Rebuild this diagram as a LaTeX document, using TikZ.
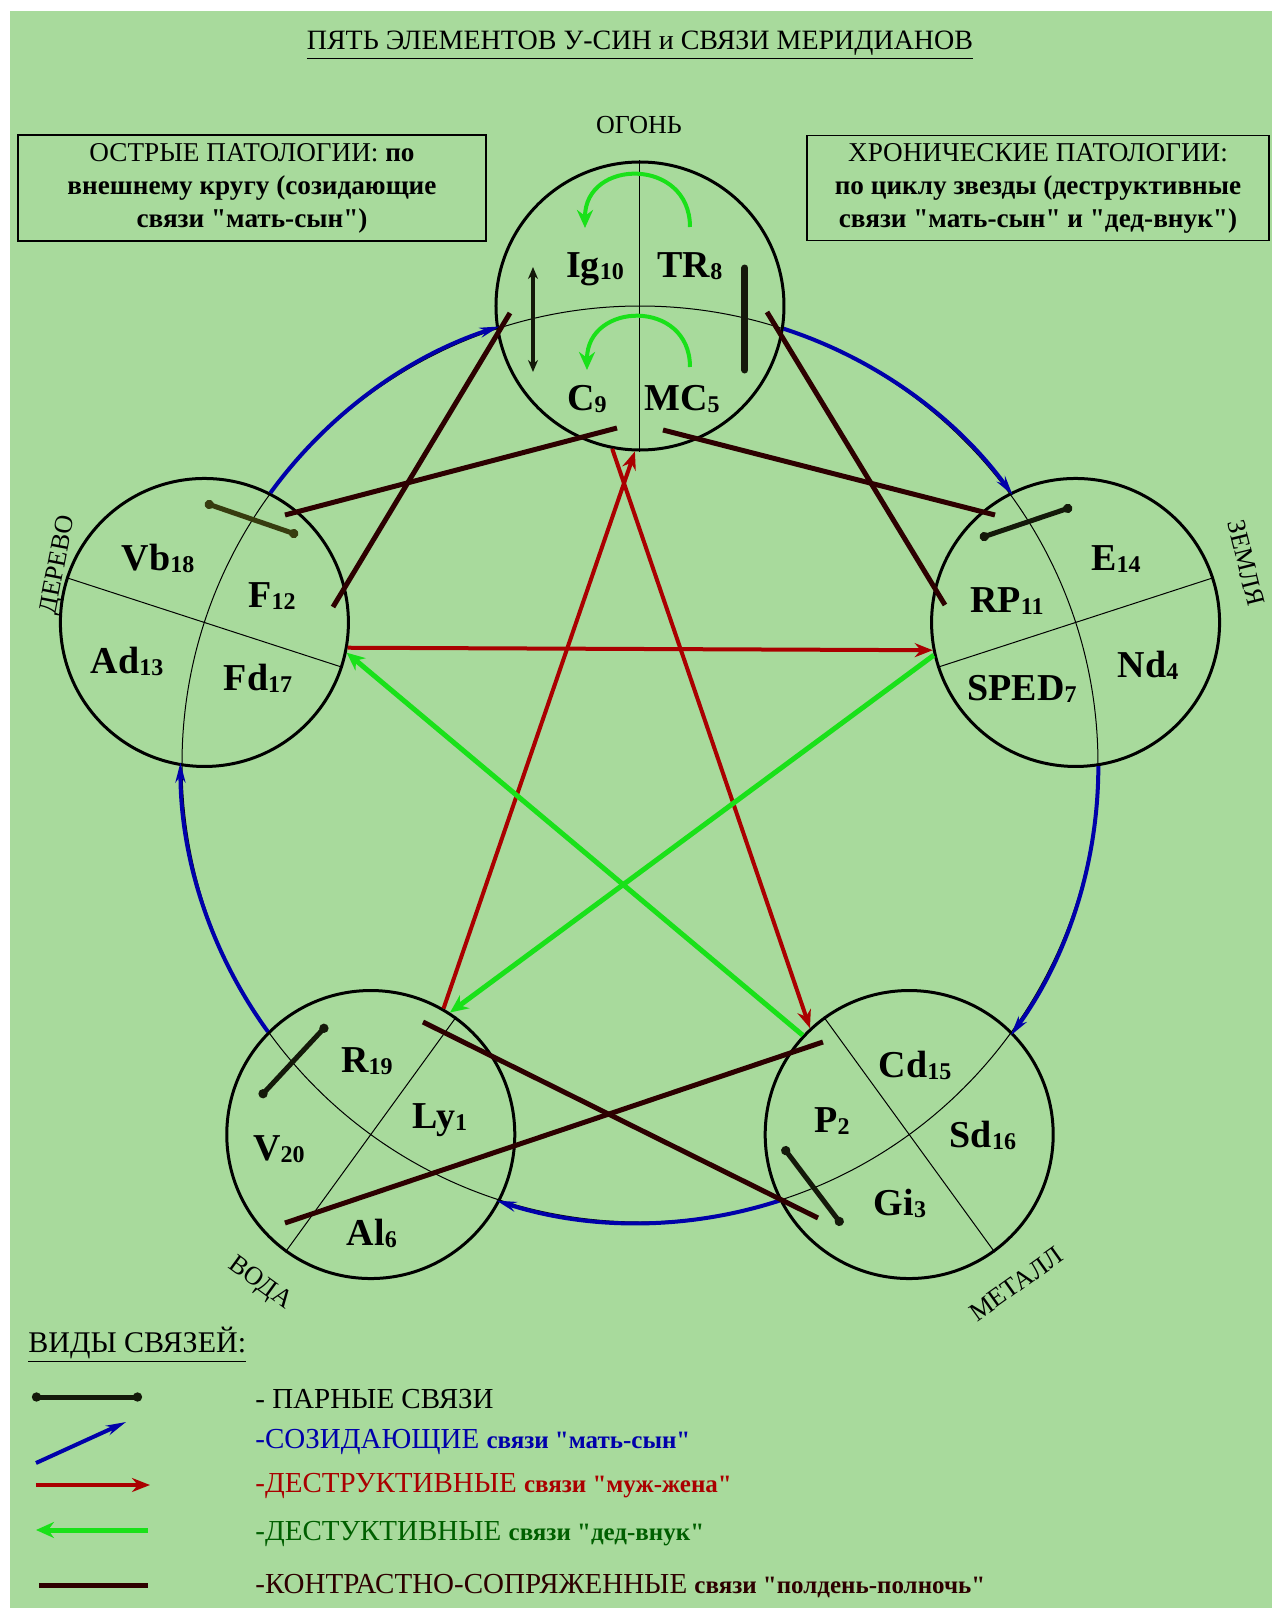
\documentclass[tikz,border=0pt]{standalone}
\usepackage{fontspec}
\setmainfont{Liberation Serif}[Ligatures=TeXOff]
\usetikzlibrary{shapes,arrows.meta,positioning}
\definecolor{PaperGreen}{RGB}{168,218,156}
\definecolor{LinkBlue}{RGB}{0,0,170}
\definecolor{LinkRed}{RGB}{170,0,0}
\definecolor{LinkGreen}{RGB}{25,225,25}
\definecolor{TextGreen}{RGB}{0,95,0}
\definecolor{LinkBrown}{RGB}{45,0,0}
\definecolor{PairBlack}{RGB}{20,25,10}
\definecolor{PairOlive}{RGB}{55,60,15}
\newcommand{\fs}[1]{\fontsize{#1}{#1}\selectfont}
\newcommand{\idx}[1]{\raisebox{-1pt}{\fs{12}#1}}
\tikzset{
  elem/.style={draw, circle, line width=1.5pt, minimum size=144pt, inner sep=0pt},
  merid/.style={font=\bfseries\fs{19}, anchor=base, inner sep=0pt},
  elname/.style={font=\fs{13}, inner sep=0pt},
  notebox/.style={draw, line width=0.8pt, align=center, inner sep=0pt, font=\fontsize{13.6}{16.5}\selectfont},
  createarc/.style={LinkBlue, line width=2pt, -{Stealth[length=10pt,width=5pt]}},
  husband/.style={LinkRed, line width=2pt, -{Stealth[length=9pt,width=7pt]}},
  grandson/.style={LinkGreen, line width=2.5pt, -{Stealth[length=9pt,width=8pt]}},
  noonlink/.style={LinkBrown, line width=2.5pt},
  pairlink/.style={PairBlack, line width=2.5pt, {Circle[length=4.5pt]}-{Circle[length=4.5pt]}},
  legtext/.style={anchor=base west, inner sep=0pt, font=\fs{14.5}}
}

\begin{document}
\begin{tikzpicture}[x=0.5pt,y=0.5pt]
  % paper
  \fill[white] (-640,764) rectangle (632,-844);
  \fill[PaperGreen] (-630,753) rectangle (632,-844);
  \useasboundingbox (-640,764) rectangle (632,-844);

  \node[font=\fs{14}, anchor=base, inner sep=0pt] (title) at (0,714)
    {\underline{ПЯТЬ ЭЛЕМЕНТОВ У-СИН и СВЯЗИ МЕРИДИАНОВ}};

  % notes
  \node[notebox, minimum width=234pt, minimum height=53pt] (acute) at (-388,576)
    {ОСТРЫЕ ПАТОЛОГИИ: \textbf{по}\\ \textbf{внешнему кругу (созидающие}\\ \textbf{связи "мать-сын")}};
  \node[notebox, minimum width=231pt, minimum height=52.5pt] (chronic) at (398,576)
    {ХРОНИЧЕСКИЕ ПАТОЛОГИИ:\\ \textbf{по циклу звезды (деструктивные}\\ \textbf{связи "мать-сын" и "дед-внук")}};

  % five elements
  \node[elem] (fire) at (90:458) {};
  \node[elem] (wood) at (162:458) {};
  \node[elem] (earth) at (18:458) {};
  \node[elem] (metal) at (306:458) {};
  \node[elem] (water) at (234:458) {};
  \draw[line width=0.5pt] (0,0) circle[radius=458];
  \foreach \n/\a/\b in {fire/90/270, wood/162/342, earth/18/198, water/234/54, metal/306/126}
    \draw[line width=0.5pt] (\n.\a) -- (\n.\b);

  \node[elname, anchor=base] (fireName) at (-1,631) {ОГОНЬ};
  \node[elname, rotate=79] (woodName) at (-581,199) {ДЕРЕВО};
  \node[elname, rotate=-76] (earthName) at (606,201) {ЗЕМЛЯ};
  \node[elname, rotate=-36] (waterName) at (-380,-520) {ВОДА};
  \node[elname, rotate=35.5] (metalName) at (376,-520) {МЕТАЛЛ};

  % mother-son circle
  \foreach \n/\a/\b in {wood/144/63, fire/72/351, earth/0/279, metal/-72/207, water/-144/135}
    \draw[createarc] (\n.\b) arc[start angle=\a, end angle=\a-36, radius=458];

  % meridians
  \node[merid] (Ig) at (-45,487) {Ig\idx{10}};
  \node[merid] (TR) at (50,487) {TR\idx{8}};
  \node[merid] (C) at (-53,354) {C\idx{9}};
  \node[merid] (MC) at (42,354) {MC\idx{5}};
  \node[merid] (Vb) at (-482,194) {Vb\idx{18}};
  \node[merid] (F) at (-368,157) {F\idx{12}};
  \node[merid] (Ad) at (-513,91) {Ad\idx{13}};
  \node[merid] (Fd) at (-382,74) {Fd\idx{17}};
  \node[merid] (E) at (476,194) {E\idx{14}};
  \node[merid] (RP) at (367,152) {RP\idx{11}};
  \node[merid] (Nd) at (508,87) {Nd\idx{4}};
  \node[merid] (SPED) at (382,64) {SPED\idx{7}};
  \node[merid] (R) at (-273,-308) {R\idx{19}};
  \node[merid] (Ly) at (-200,-364) {Ly\idx{1}};
  \node[merid] (V) at (-361,-396) {V\idx{20}};
  \node[merid] (Al) at (-268,-481) {Al\idx{6}};
  \node[merid] (Cd) at (275,-313) {Cd\idx{15}};
  \node[merid] (P) at (192,-368) {P\idx{2}};
  \node[merid] (Sd) at (343,-383) {Sd\idx{16}};
  \node[merid] (Gi) at (260,-451) {Gi\idx{3}};

  % paired links
  \coordinate (pIg) at (-107,497);  \coordinate (pC) at (-107,392);
  \coordinate (pTR) at (105,496);   \coordinate (pMC) at (105,394);
  \coordinate (pVb) at (-435,261);  \coordinate (pF) at (-342,229);
  \coordinate (pRP) at (340,226);   \coordinate (pE) at (432,257);
  \coordinate (pV) at (-380,-333);  \coordinate (pR) at (-313,-261);
  \coordinate (pP) at (143,-383);   \coordinate (pGi) at (202,-461);
  \draw[PairBlack, line width=2pt, {Stealth[length=6pt,width=5pt]}-{Stealth[length=6pt,width=5pt]}] (pIg) -- (pC);
  \draw[PairBlack, line width=3.5pt, line cap=round] (pTR) -- (pMC);
  \draw[pairlink, PairOlive] (pVb) -- (pF);
  \draw[pairlink] (pRP) -- (pE);
  \draw[pairlink] (pV) -- (pR);
  \draw[pairlink] (pP) -- (pGi);

  % noon-midnight links
  \coordinate (xIg) at (-130,451);  \coordinate (xF) at (-307,157);
  \coordinate (xTR) at (127,452);   \coordinate (xRP) at (305,159);
  \coordinate (xC) at (-23,336);    \coordinate (xVb) at (-355,249);
  \coordinate (xMC) at (23,334);    \coordinate (xE) at (355,249);
  \coordinate (xR) at (-217,-258);  \coordinate (xGi) at (178,-454);
  \coordinate (xV) at (-355,-459);  \coordinate (xP) at (183,-278);
  \draw[noonlink] (xIg) -- (xF);
  \draw[noonlink] (xTR) -- (xRP);
  \draw[noonlink] (xC) -- (xVb);
  \draw[noonlink] (xMC) -- (xE);
  \draw[noonlink] (xR) -- (xGi);
  \draw[noonlink] (xV) -- (xP);

  % star
  \draw[husband] (wood.350) -- (earth.191);
  \draw[husband] (fire.259) -- (metal.133);
  \draw[husband] (water.60) -- (fire.268);
  \draw[grandson] (earth.193) -- (water.57);
  \draw[grandson] (metal.137) -- (wood.348);

  % loops inside fire
  \coordinate (aTR) at (50,537);  \coordinate (aIg) at (-55,536);
  \coordinate (aMC) at (50,397);  \coordinate (aC) at (-53,394);
  \draw[grandson, line width=2pt] (aTR) to[out=90, in=90, looseness=1.7] (aIg);
  \draw[grandson, line width=2pt] (aMC) to[out=90, in=90, looseness=1.7] (aC);

  % legend
  \node[legtext, font=\fs{15}] (legTitle) at (-612,-588) {\underline{ВИДЫ СВЯЗЕЙ:}};
  \coordinate (s1a) at (-608,-633); \coordinate (s1b) at (-498,-633);
  \coordinate (s2a) at (-604,-699); \coordinate (s2b) at (-514,-658);
  \coordinate (s3a) at (-604,-721); \coordinate (s3b) at (-490,-721);
  \coordinate (s4a) at (-492,-766); \coordinate (s4b) at (-604,-766);
  \coordinate (s5a) at (-601,-821); \coordinate (s5b) at (-492,-821);
  \draw[pairlink] (s1a) -- (s1b);
  \draw[createarc] (s2a) -- (s2b);
  \draw[husband] (s3a) -- (s3b);
  \draw[grandson] (s4a) -- (s4b);
  \draw[noonlink] (s5a) -- (s5b);
  \node[legtext] (legPair) at (-385,-644) {- ПАРНЫЕ СВЯЗИ};
  \node[legtext, LinkBlue] (legCreate) at (-385,-684) {-СОЗИДАЮЩИЕ {\bfseries\fs{12.5}связи "мать-сын"}};
  \node[legtext, LinkRed] (legHusband) at (-385,-728) {-ДЕСТРУКТИВНЫЕ {\bfseries\fs{12.5}связи "муж-жена"}};
  \node[legtext, TextGreen] (legGrand) at (-385,-776) {-ДЕСТУКТИВНЫЕ {\bfseries\fs{12.5}связи "дед-внук"}};
  \node[legtext, LinkBrown] (legNoon) at (-385,-829) {-КОНТРАСТНО-СОПРЯЖЕННЫЕ {\bfseries\fs{12.5}связи "полдень-полночь"}};
\end{tikzpicture}
\end{document}
